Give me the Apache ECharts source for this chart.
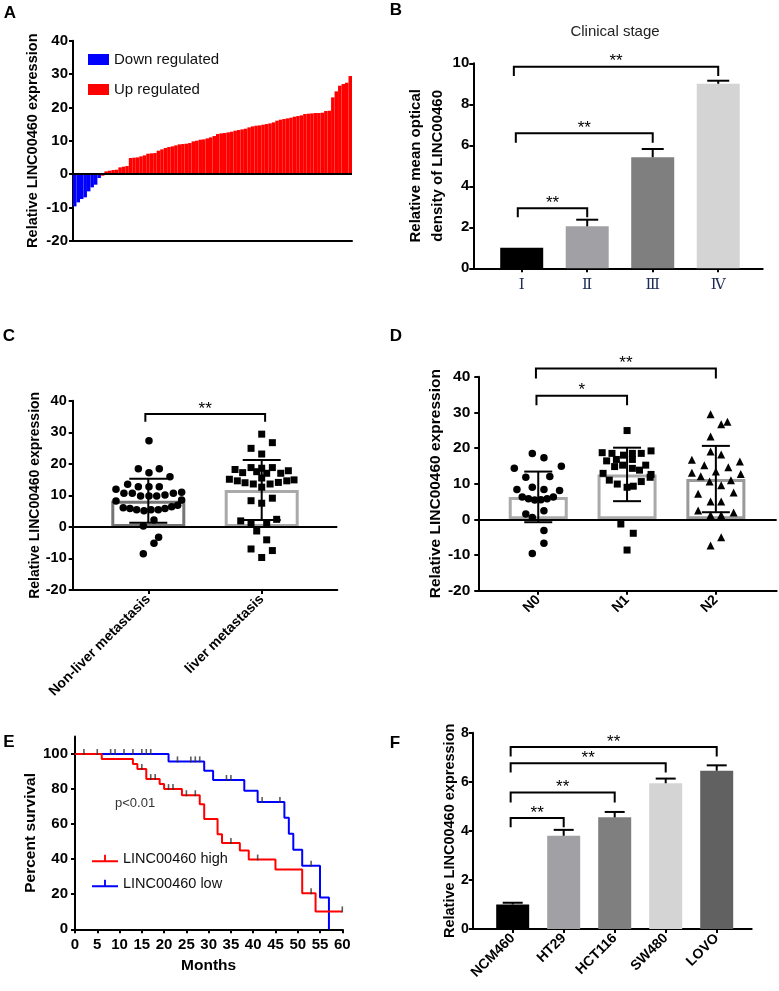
<!DOCTYPE html>
<html><head><meta charset="utf-8">
<script src="https://cdn.jsdelivr.net/npm/echarts@6/dist/echarts.min.js"></script>
<style>html,body{margin:0;padding:0;background:#fff}#c{width:779px;height:991px}</style>
</head><body><div id="c"></div>
<script>
// ================= DATA =================
// Panel A: waterfall of relative LINC00460 expression per sample (sorted)
const downValues = [-9.7,-8.5,-7.5,-7.0,-5.2,-4.0,-3.2,-1.2];
const upValues = [-0.5,0.8,1.0,1.2,1.3,2.0,2.2,2.4,4.8,4.9,5.0,5.3,5.6,6.1,6.2,6.3,7.0,7.4,7.8,8.1,8.3,8.6,8.9,9.0,9.1,9.3,9.8,10.0,10.3,10.4,10.7,11.0,11.4,12.0,12.2,12.3,12.5,12.7,13.0,13.2,13.4,13.6,14.0,14.3,14.5,14.6,14.8,15.0,15.2,15.5,16.0,16.3,16.5,16.7,16.9,17.2,17.4,17.6,18.0,18.1,18.2,18.3,18.3,18.4,18.9,19.0,23.0,24.8,26.5,27.0,27.4,29.4];

// Panel B: clinical stage
const stageLabels = ['Ⅰ','Ⅱ','Ⅲ','Ⅳ'];
const stageMeans = [1.0, 2.05, 5.42, 9.0];
const stageErr = [0, 0.32, 0.40, 0.15];
// [from, to, top, leg, text]
const stageBrackets = [[0.94,2,2.93,2.49,'**'],[0.91,3,6.59,6.13,'**'],[0.88,4,9.83,9.38,'**']];

// Panel C: metastasis  (points: [jitter, value])
const metaGroups = ['Non-liver metastasis','liver metastasis'];
const metaMeans = [8.3, 11.7];
const metaSD = [7.0, 9.5];
const nonLiverPts = [[0.006,27.3],[-0.088,18.4],[0.006,17.2],[0.097,18.4],[0.191,15.9],
 [-0.182,13.5],[-0.088,12.7],[0.006,12.7],[0.097,12.7],
 [-0.285,11.9],[-0.215,10.7],[-0.141,10.7],[-0.068,9.8],[0.006,9.8],[0.074,9.8],[0.147,10.1],[0.221,10.7],[0.294,11.0],
 [-0.285,8.2],[0.294,8.5],
 [-0.221,6.1],[-0.162,5.8],[-0.103,5.4],[-0.038,5.1],[0.024,5.4],[0.088,5.4],[0.147,5.8],[0.206,6.4],[0.259,6.9],
 [-0.044,0.3],[0.050,2.2],[0.091,-3.3],[0.050,-5.2],[-0.044,-8.5]];
const liverPts = [[0,29.4],[0.094,26.7],[-0.094,24.9],[0,23.1],
 [-0.094,18.8],[0,18.6],[0.094,18.8],
 [-0.235,18.2],[-0.168,17.2],[-0.044,17.5],[0.044,17.0],[0.168,17.0],[0.235,17.8],
 [-0.285,15.1],[-0.215,14.6],[-0.147,14.0],[-0.074,13.6],[0,12.6],[0.074,13.6],[0.147,14.1],[0.221,14.6],[0.285,14.9],
 [0,15.5],
 [-0.094,8.3],[0,7.5],[0.094,9.1],
 [-0.185,1.9],[-0.094,0.9],[0.044,1.2],[0.132,2.4],
 [-0.044,-1.3],[0.044,-4.1],
 [-0.094,-7.0],[0.094,-7.5],[0,-9.7]];
const metaBrackets = [[0.974,2.03,35.8,33.3,'**']];

// Panel D: N stage
const nGroups = ['N0','N1','N2'];
const nMeans = [6.3, 12.6, 11.3];
const nSD = [7.1, 7.5, 9.3];
const n0Pts = [[-0.067,18.5],[0.064,17.3],[-0.27,14.3],[0.26,14.9],[-0.14,11.8],[0.13,12.0],[-0.24,8.4],[-0.067,9.0],[0.064,8.4],[0.24,8.1],
 [-0.18,6.3],[-0.11,5.8],[-0.04,5.4],[0.03,5.5],[0.10,5.8],[0.17,6.3],[-0.14,1.5],[-0.067,0.5],[0.064,2.4],[0.064,-3.1],[0.064,-6.7],[-0.067,-9.6]];
const n1Pts = [[0,24.9],
 [-0.28,18.7],[-0.17,18.5],[-0.04,18.0],[0.06,18.5],[0.16,18.5],[0.27,19.2],
 [-0.23,16.4],[-0.12,16.8],[0.06,16.8],[0.21,15.2],
 [-0.14,14.8],[-0.05,15.2],[0.06,14.3],[0.14,13.8],[0.27,12.6],
 [-0.27,12.9],[0.26,11.8],
 [-0.20,11.0],[-0.11,9.9],[0,9.0],[0.07,9.3],[0.16,10.6],
 [-0.07,-1.3],[0.07,-3.9],[0,-8.6]];
const n2Pts = [[-0.06,29.5],[0.06,26.7],[0.13,27.4],[-0.06,23.2],[-0.06,19.0],[0.06,18.2],
 [-0.27,16.7],[-0.13,15.2],[0.14,14.6],[0.27,16.2],[-0.27,13.1],[-0.17,12.1],[0,13.4],[0.17,11.0],[0.28,12.7],
 [-0.07,10.6],[0.06,9.6],[-0.2,7.2],[0.2,7.5],[-0.06,5.0],[0.06,5.0],[-0.2,2.5],[-0.06,1.2],[0.06,1.2],[0.2,1.9],[0.06,-5.0],[-0.06,-7.3]];
const nBrackets = [[0.98,2.0,34.65,32.0,'*'],[0.974,3.0,42.3,39.5,'**']];

// Panel E: Kaplan-Meier  [month, percent]
const highCurve = [[0,100],[6,97.1],[13,94.3],[14,91.4],[16,85.7],[19,82.9],[20,80.0],[24,76.5],[28,71.4],[29,62.9],[32,54.3],[33,49.2],[37,44.9],[39,39.8],[45,34.1],[51,20.5],[54,10.2],[60,10.2]];
const lowCurve = [[0,100],[21,95.8],[29,90.5],[31,85.2],[38,79.1],[41,72.7],[47,63.6],[48,54.5],[49,45.4],[51,36.3],[55,18.2],[57,0]];
const highCensor = [[2,100],[5,100],[15,91.4],[17,85.7],[18,85.7],[21,80],[22,80],[25,76.5],[27,76.5],[35,49.2],[41,39.8],[53,20.5],[60,10.2]];
const lowCensor = [[8,100],[9,100],[11,100],[13,100],[15,100],[16,100],[17,100],[23,95.8],[26,95.8],[27,95.8],[28,95.8],[34,85.2],[35,85.2],[42,72.7],[46,72.7],[53,36.3]];
const survTicks = [0,20,40,60,80,100];

// Panel F: cell lines
const cellLines = ['NCM460','HT29','HCT116','SW480','LOVO'];
const cellMeans = [1.0, 3.8, 4.55, 5.94, 6.45];
const cellErr = [0.07, 0.24, 0.22, 0.19, 0.22];
const cellBrackets = [[0.96,2,4.52,4.15,'**'],[0.96,3,5.56,5.16,'**'],[0.96,4,6.76,6.38,'**'],[0.96,5,7.42,7.03,'**']];

// ================= STYLE =================
const FONT = '"Liberation Sans", Arial, sans-serif';
const stageColors = ['#000000','#a1a1a5','#7f7f7f','#d4d4d4'];
const cellColors = ['#000000','#a1a1a5','#7f7f7f','#d4d4d4','#616161'];

function yAx(gi, min, max, interval, name, nameGap, o) {
  o = o || {};
  return {
    type:'value', gridIndex:gi, min:min, max:max, interval:interval,
    name:name, nameLocation:'middle', nameGap:nameGap, nameRotate:90,
    nameTextStyle:Object.assign({fontFamily:FONT, fontWeight:'bold', fontSize:o.nameSize||14, color:'#000'}, o.nameExtra||{}),
    axisLine:{show:true, lineStyle:{color:'#000', width:2}},
    axisTick:Object.assign({show:true, length:o.tickLen||4, lineStyle:{color:'#000', width:2}}, o.tickExtra||{}),
    axisLabel:Object.assign({fontFamily:FONT, fontWeight:'bold', fontSize:o.labelSize||15, color:'#000', margin:o.margin||6}, o.labelExtra||{}),
    splitLine:{show:false}
  };
}
function xCatAx(gi, min, max, labels, o) {
  o = o || {};
  const vals = labels.map((_, i) => i + 1);
  return {
    type:'value', gridIndex:gi, min:min, max:max,
    axisLine:{show:true, onZero:false, lineStyle:{color:'#000', width:2}},
    axisTick:{show:true, length:4, customValues:vals, lineStyle:{color:'#000', width:2}},
    axisLabel:Object.assign({show:true, customValues:vals, formatter:v => labels[Math.round(v)-1] || '',
      fontFamily:FONT, fontWeight:'bold', fontSize:o.labelSize||13.5, color:'#000', margin:o.margin||7, rotate:o.rotate||0}, o.labelExtra||{}),
    splitLine:{show:false}
  };
}
function errorBars(gi, means, errs, capW, both) {
  return {
    type:'custom', xAxisIndex:gi, yAxisIndex:gi, silent:true, z:5,
    data: means.map((m, i) => [i + 1, m, errs[i]]),
    renderItem: function (params, api) {
      const x = api.value(0), m = api.value(1), e = api.value(2);
      if (!e) return null;
      const top = api.coord([x, m + e]);
      const bot = api.coord([x, both ? m - e : m]);
      const st = {stroke:'#000', lineWidth:2, fill:'none'};
      const ch = [
        {type:'line', shape:{x1:top[0], y1:top[1], x2:bot[0], y2:bot[1]}, style:st},
        {type:'line', shape:{x1:top[0]-capW/2, y1:top[1], x2:top[0]+capW/2, y2:top[1]}, style:st}
      ];
      if (both) ch.push({type:'line', shape:{x1:bot[0]-capW/2, y1:bot[1], x2:bot[0]+capW/2, y2:bot[1]}, style:st});
      return {type:'group', children:ch};
    }
  };
}
function brackets(gi, list, fs) {
  return {
    type:'custom', xAxisIndex:gi, yAxisIndex:gi, silent:true, z:6, clip:false,
    data: list.map(b => [b[0], b[2], b[1], b[3]]),
    renderItem: function (params, api) {
      const b = list[params.dataIndex];
      const p1 = api.coord([b[0], b[3]]), p2 = api.coord([b[0], b[2]]), p3 = api.coord([b[1], b[2]]), p4 = api.coord([b[1], b[3]]);
      return {type:'group', children:[
        {type:'polyline', shape:{points:[p1,p2,p3,p4]}, style:{stroke:'#000', lineWidth:2, fill:'none'}},
        {type:'text', x:(p2[0]+p3[0])/2, y:p2[1]-5, style:{text:b[4], fill:'#000', font:fs+'px '+FONT, textAlign:'center', textVerticalAlign:'middle'}}
      ]};
    }
  };
}
function dots(gi, center, pts, symbol, size) {
  return {type:'scatter', xAxisIndex:gi, yAxisIndex:gi, symbol:symbol, symbolSize:size, silent:true, z:4,
    itemStyle:{color:'#000', opacity:1}, data: pts.map(p => [center + p[0], p[1]])};
}
function hollowBars(gi, means, colors, w) {
  return {type:'bar', xAxisIndex:gi, yAxisIndex:gi, barWidth:w, silent:true, z:2,
    data: means.map((m, i) => ({value:[i + 1, m], itemStyle:{color:'rgba(0,0,0,0)', borderColor:colors[i], borderWidth:3}}))};
}
function solidBars(gi, means, colors, w) {
  return {type:'bar', xAxisIndex:gi, yAxisIndex:gi, barWidth:w, silent:true, z:2,
    data: means.map((m, i) => ({value:[i + 1, m], itemStyle:{color:colors[i]}}))};
}
const zeroLine = {silent:true, symbol:'none', label:{show:false}, lineStyle:{color:'#000', width:2, type:'solid'}, data:[{yAxis:0}]};

const sampleIds = downValues.concat(upValues).map((_, i) => 'S' + (i + 1));
const nDown = downValues.length;

const option = {
  animation:false,
  backgroundColor:'#fff',
  textStyle:{fontFamily:FONT},
  grid:[
    {left:73, top:40.7, width:279, height:200},
    {left:473.3, top:63.3, width:289.4, height:205},
    {left:72.7, top:400.7, width:264.6, height:189.3},
    {left:478.3, top:376.7, width:298.4, height:214},
    {left:75, top:736.5, width:267.3, height:192.8},
    {left:472.7, top:732.7, width:279, height:196.3}
  ],
  legend:[
    {data:['Down regulated'], left:83, top:47, icon:'rect', itemWidth:21, itemHeight:11, selectedMode:false,
     textStyle:{fontFamily:FONT, fontSize:15, color:'#111'}},
    {data:['Up regulated'], left:83, top:77, icon:'rect', itemWidth:21, itemHeight:11, selectedMode:false,
     textStyle:{fontFamily:FONT, fontSize:15, color:'#111'}},
    {data:['LINC00460 high'], left:87, top:846, icon:'path://M0,6h28v2.2H0z M13,0h2v7h-2z', itemWidth:26, itemHeight:8, selectedMode:false,
     textStyle:{fontFamily:FONT, fontSize:14.5, color:'#111'}},
    {data:['LINC00460 low'], left:87, top:871, icon:'path://M0,6h28v2.2H0z M13,0h2v7h-2z', itemWidth:26, itemHeight:8, selectedMode:false,
     textStyle:{fontFamily:FONT, fontSize:14.5, color:'#111'}}
  ],
  xAxis:[
    {type:'category', gridIndex:0, data:sampleIds, boundaryGap:true,
     axisLine:{show:true, onZero:false, lineStyle:{color:'#000', width:2}}, axisTick:{show:false}, axisLabel:{show:false}, splitLine:{show:false}},
    xCatAx(1, 0.261, 4.679, stageLabels, {margin:9, labelExtra:{fontFamily:'"Liberation Serif","DejaVu Serif",serif', fontWeight:'normal', fontSize:15, color:'#1d2b55'}}),
    xCatAx(2, 1/3, 8/3, metaGroups, {rotate:45, margin:7, labelSize:14}),
    xCatAx(3, 0.325, 3.685, nGroups, {rotate:45, margin:7, labelSize:14}),
    {type:'value', gridIndex:4, min:0, max:60, interval:5,
     name:'Months', nameLocation:'middle', nameGap:28, nameTextStyle:{fontFamily:FONT, fontWeight:'bold', fontSize:15.5, color:'#000'},
     axisLine:{show:true, onZero:false, lineStyle:{color:'#000', width:2}},
     axisTick:{show:true, length:4, lineStyle:{color:'#000', width:2}},
     axisLabel:{fontFamily:FONT, fontWeight:'bold', fontSize:15, color:'#000', margin:8}, splitLine:{show:false}},
    xCatAx(5, 0.216, 5.686, cellLines, {rotate:45, margin:7, labelSize:14})
  ],
  yAxis:[
    yAx(0, -20, 40, 10, 'Relative LINC00460 expression', 33, {nameSize:14.5, margin:5}),
    yAx(1, 0, 10, 2, 'Relative mean optical\ndensity of LINC00460', 14, {nameSize:15, margin:4, nameExtra:{lineHeight:22}}),
    yAx(2, -20, 40, 10, 'Relative LINC00460 expression', 29, {nameSize:14, labelSize:14.5, margin:6}),
    yAx(3, -20, 40, 10, 'Relative LINC00460 expression', 35, {nameSize:15.5, labelSize:15.5, margin:8}),
    yAx(4, 0, 110, 20, 'Percent survival', 34, {nameSize:15.5, margin:7,
       tickExtra:{customValues:survTicks}, labelExtra:{customValues:survTicks}}),
    yAx(5, 0, 8, 2, 'Relative LINC00460 expression', 13, {nameSize:14.5, labelSize:14, margin:4})
  ],
  series:[
    // A
    {name:'Down regulated', type:'bar', xAxisIndex:0, yAxisIndex:0, barGap:'-100%', barCategoryGap:'0%', silent:true,
     itemStyle:{color:'#0000ff'},
     data: sampleIds.map((_, i) => i < nDown ? downValues[i] : null)},
    {name:'Up regulated', type:'bar', xAxisIndex:0, yAxisIndex:0, barGap:'-100%', barCategoryGap:'0%', silent:true,
     itemStyle:{color:'#ff0000'},
     data: sampleIds.map((_, i) => i >= nDown ? upValues[i - nDown] : null),
     markLine: zeroLine},
    // B
    solidBars(1, stageMeans, stageColors, 43),
    errorBars(1, stageMeans, stageErr, 22, false),
    brackets(1, stageBrackets, 17),
    // C
    Object.assign(hollowBars(2, metaMeans, ['#757575','#a9a9a9'], 74), {markLine: zeroLine}),
    dots(2, 1, nonLiverPts, 'circle', 7.5),
    dots(2, 2, liverPts, 'rect', 7),
    errorBars(2, metaMeans, metaSD, 38, true),
    brackets(2, metaBrackets, 17),
    // D
    Object.assign(hollowBars(3, nMeans, ['#aaaaaa','#aaaaaa','#9a9a9a'], 59), {markLine: zeroLine}),
    dots(3, 1, n0Pts, 'circle', 7.5),
    dots(3, 2, n1Pts, 'rect', 7),
    dots(3, 3, n2Pts, 'triangle', 8),
    errorBars(3, nMeans, nSD, 28, true),
    brackets(3, nBrackets, 17),
    // E
    {name:'LINC00460 high', type:'line', xAxisIndex:4, yAxisIndex:4, step:'end', showSymbol:false, symbol:'none', silent:true, z:3,
     lineStyle:{color:'#ff0000', width:2}, itemStyle:{color:'#ff0000'}, data: highCurve},
    {name:'LINC00460 low', type:'line', xAxisIndex:4, yAxisIndex:4, step:'end', showSymbol:false, symbol:'none', silent:true, z:2,
     lineStyle:{color:'#0000ff', width:2}, itemStyle:{color:'#0000ff'}, data: lowCurve},
    {type:'scatter', xAxisIndex:4, yAxisIndex:4, symbol:'rect', symbolSize:[1.6,6], symbolOffset:[0,-2], silent:true, z:4,
     itemStyle:{color:'#333'}, data: highCensor},
    {type:'scatter', xAxisIndex:4, yAxisIndex:4, symbol:'rect', symbolSize:[1.6,6], symbolOffset:[0,-2], silent:true, z:4,
     itemStyle:{color:'#333'}, data: lowCensor},
    // F
    solidBars(5, cellMeans, cellColors, 33),
    errorBars(5, cellMeans, cellErr, 20, false),
    brackets(5, cellBrackets, 17)
  ],
  graphic:[
    {type:'text', x:10, y:13, style:{text:'A', font:'bold 17px '+FONT, fill:'#000', textAlign:'center', textVerticalAlign:'middle'}},
    {type:'text', x:396, y:10, style:{text:'B', font:'bold 17px '+FONT, fill:'#000', textAlign:'center', textVerticalAlign:'middle'}},
    {type:'text', x:9, y:336, style:{text:'C', font:'bold 17px '+FONT, fill:'#000', textAlign:'center', textVerticalAlign:'middle'}},
    {type:'text', x:396, y:336, style:{text:'D', font:'bold 17px '+FONT, fill:'#000', textAlign:'center', textVerticalAlign:'middle'}},
    {type:'text', x:9, y:742, style:{text:'E', font:'bold 17px '+FONT, fill:'#000', textAlign:'center', textVerticalAlign:'middle'}},
    {type:'text', x:395, y:743, style:{text:'F', font:'bold 17px '+FONT, fill:'#000', textAlign:'center', textVerticalAlign:'middle'}},
    {type:'text', x:615, y:32, style:{text:'Clinical stage', font:'15px '+FONT, fill:'#222', textAlign:'center', textVerticalAlign:'middle'}},
    {type:'text', x:115, y:803, style:{text:'p<0.01', font:'13px '+FONT, fill:'#333', textAlign:'left', textVerticalAlign:'middle'}}
  ]
};
const chart = echarts.init(document.getElementById('c'), null, {renderer:'canvas', width:779, height:991});
chart.setOption(option);
</script>
</body></html>
